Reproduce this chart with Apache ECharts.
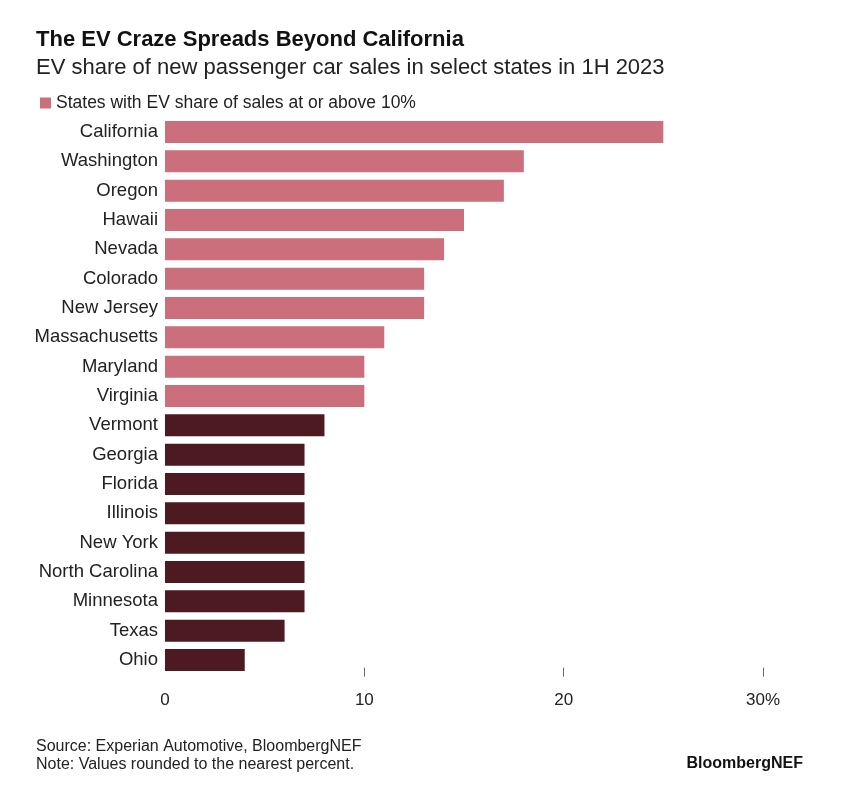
<!DOCTYPE html>
<html><head><meta charset="utf-8">
<script src="https://cdn.jsdelivr.net/npm/echarts@6/dist/echarts.min.js"></script>
<style>html,body{margin:0;padding:0;background:#fff}#c{width:848px;height:800px}</style>
</head><body><div id="c"></div>
<script>
const states = ["California","Washington","Oregon","Hawaii","Nevada","Colorado","New Jersey","Massachusetts","Maryland","Virginia","Vermont","Georgia","Florida","Illinois","New York","North Carolina","Minnesota","Texas","Ohio"];
const evShare = [25,18,17,15,14,13,13,11,10,10,8,7,7,7,7,7,7,6,4];
const threshold = 10;
const xTicks = [0,10,20,30];
const seriesName = "States with EV share of sales at or above 10%";

const PINK = "#cc6f7c", DARK = "#4e1a22";
const FONT = "Liberation Sans, Arial, sans-serif";
const chart = echarts.init(document.getElementById('c'));
chart.setOption({
  backgroundColor: "#fff",
  animation: false,
  title: [
    {text: "The EV Craze Spreads Beyond California", left: 31, top: 24,
     textStyle: {fontFamily: FONT, fontSize: 22, fontWeight: "bold", color: "#111"}},
    {text: "EV share of new passenger car sales in select states in 1H 2023", left: 31, top: 52,
     textStyle: {fontFamily: FONT, fontSize: 22, fontWeight: "normal", color: "#222"}},
    {text: "Source: Experian Automotive, BloombergNEF\nNote: Values rounded to the nearest percent.", left: 31, top: 732,
     textStyle: {fontFamily: FONT, fontSize: 16, fontWeight: "normal", color: "#222", lineHeight: 18.5}},
    {text: "BloombergNEF", right: 40, top: 751,
     textStyle: {fontFamily: FONT, fontSize: 16, fontWeight: "bold", color: "#111"}}
  ],
  legend: {
    left: 35, top: 89, itemWidth: 11, itemHeight: 11, itemGap: 6,
    icon: "rect",
    textStyle: {fontFamily: FONT, fontSize: 17.5, color: "#222"},
    data: [seriesName]
  },
  grid: {left: 165, right: 85, top: 117.3, bottom: 125.3, containLabel: false},
  xAxis: {
    type: "value", min: 0, max: 30, interval: 10,
    offset: -7,
    splitLine: {show: false},
    axisLine: {show: false},
    axisTick: {show: true, length: 9, customValues: xTicks.slice(1), lineStyle: {color: "#666", width: 1}},
    axisLabel: {margin: 24, fontFamily: FONT, fontSize: 17, color: "#222", customValues: xTicks,
      formatter: v => v === 30 ? "30%" : String(v)}
  },
  yAxis: {
    type: "category", inverse: true, data: states,
    axisLine: {show: false}, axisTick: {show: false},
    axisLabel: {margin: 7, fontFamily: FONT, fontSize: 18.5, color: "#222"}
  },
  series: [{
    name: seriesName, type: "bar", barCategoryGap: "25%",
    itemStyle: {color: PINK},
    data: evShare.map(v => v >= threshold ? v : {value: v, itemStyle: {color: DARK}})
  }]
});
</script></body></html>
